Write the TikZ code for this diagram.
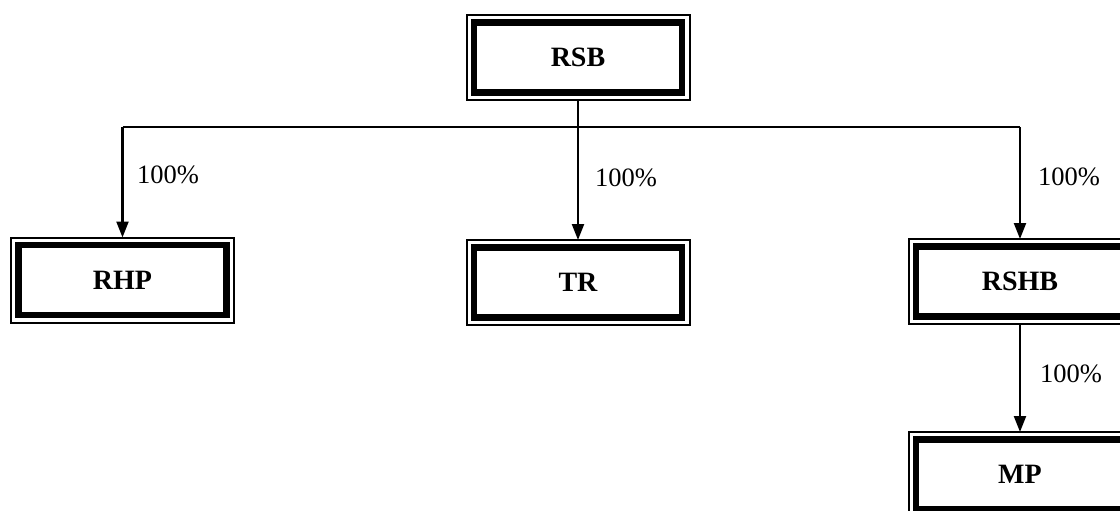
\documentclass[tikz,border=0pt]{standalone}
\usepackage{fontspec}
\setmainfont{Liberation Serif}
\usetikzlibrary{arrows.meta}
\begin{document}
\begin{tikzpicture}[x=1pt,y=-1pt,
  entity/.style={draw, line width=6.5pt, minimum width=208pt, minimum height=70pt,
    inner sep=0pt, outer sep=7.5pt, font=\fontsize{28}{30}\selectfont\bfseries},
  outerframe/.style={draw, line width=2pt},
  link/.style={line width=2.2pt},
  flow/.style={line width=2.2pt, -{Triangle[length=16pt,width=12pt]}},
  pct/.style={anchor=base west, inner sep=0pt, font=\fontsize{26.5}{28}\selectfont}]
\useasboundingbox (0,0) rectangle (1120,511);
\node[entity] (rsb) at (578,57.5) {RSB};
\node[entity] (rhp) at (122.5,280) {RHP};
\node[entity] (tr) at (578,282.5) {TR};
\node[entity] (rshb) at (1020,281.5) {RSHB};
\node[entity] (mp) at (1020,474.5) {MP};
\foreach \n in {rsb,rhp,tr,rshb,mp}
  \draw[outerframe] (\n.north west) rectangle (\n.south east);
\coordinate (hl) at (rhp.north |- 0,127);
\coordinate (hm) at (rsb.south |- 0,127);
\coordinate (hr) at (rshb.north |- 0,127);
\draw[link] (rsb.south) -- (hm);
\draw[link] (hl) -- (hr);
\draw[flow] (hl) -- (rhp.north);
\draw[flow] (hm) -- (tr.north);
\draw[flow] (hr) -- (rshb.north);
\draw[flow] (rshb.south) -- (mp.north);
\node[pct] (p1) at (137,183) {100\%};
\node[pct] (p2) at (595,186) {100\%};
\node[pct] (p3) at (1038,185) {100\%};
\node[pct] (p4) at (1040,382) {100\%};
\end{tikzpicture}
\end{document}
